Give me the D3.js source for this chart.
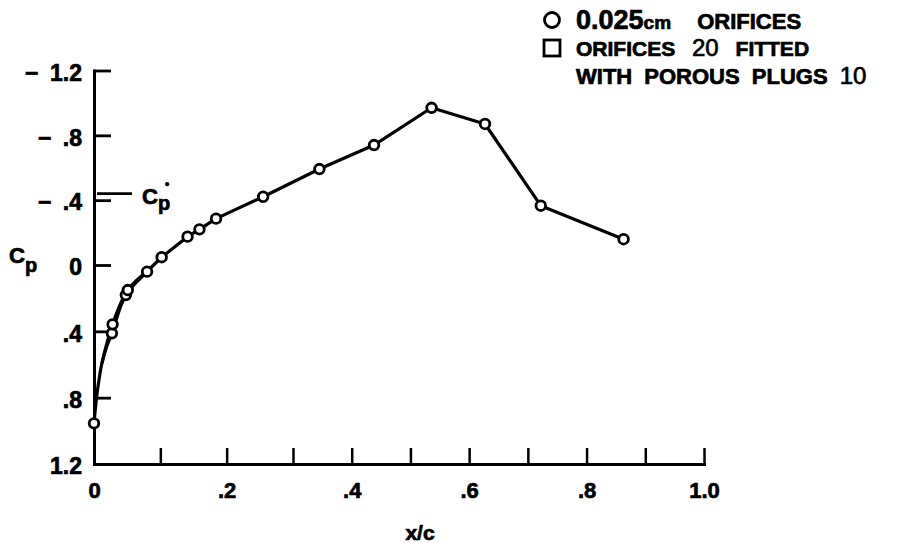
<!DOCTYPE html>
<html>
<head>
<meta charset="utf-8">
<script src="https://cdn.jsdelivr.net/npm/d3@7"></script>
<style>
  body { margin: 0; background: #fff; }
  svg { display: block; }
  text { font-family: "Liberation Sans", Arial, sans-serif; font-weight: bold; fill: #000; stroke: #000; stroke-width: 0.7px; }
</style>
</head>
<body>
<div id="chart"></div>
<script>
// orifice readings: x/c and Cp
var xc = [0, 0.027, 0.028, 0.048, 0.051, 0.080, 0.102, 0.141, 0.159, 0.184, 0.255, 0.345, 0.438, 0.536, 0.627, 0.722, 0.863];
var cp = [0.955, 0.412, 0.358, 0.181, 0.151, 0.040, -0.048, -0.175, -0.220, -0.286, -0.421, -0.592, -0.740, -0.970, -0.870, -0.366, -0.159];

// faired curve at the leading edge, before the first orifice row
var fairXc = [0, 0.004, 0.0075, 0.012, 0.019];
var fairCp = [0.955, 0.794, 0.694, 0.591, 0.493];

// critical pressure coefficient marker
var cpStar = -0.44;

var xMajorTicks = [0, 0.2, 0.4, 0.6, 0.8, 1.0];
var xTickLabels = ["0", ".2", ".4", ".6", ".8", "1.0"];
var xMinorTicks = [0.1, 0.3, 0.5, 0.7, 0.9];
var yTicks = [-1.2, -0.8, -0.4, 0, 0.4, 0.8, 1.2];
var yTickLabels = ["\u2212\u20021.2", "\u2212\u2002.8", "\u2212\u2002.4", "0", ".4", ".8", "1.2"];

var width = 898, height = 543;

var svg = d3.select("#chart")
  .append("svg")
  .attr("width", width)
  .attr("height", height);

svg.append("rect").attr("width", width).attr("height", height).attr("fill", "#fff");

// the scan is a bit stretched near the leading edge, so x uses 3 anchors
var x = d3.scaleLinear()
  .domain([0, 0.3, 1.0])
  .range([94, 293, 704]);

var y = d3.scaleLinear()
  .domain([-1.2, 0, 1.2])
  .range([70.5, 265, 464]);

// y axis, ticks pointing inward
var yAxis = svg.append("g")
  .attr("transform", "translate(" + x(0) + ",0)")
  .call(d3.axisLeft(y)
    .tickValues(yTicks)
    .tickSize(-17)
    .tickSizeOuter(0)
    .tickPadding(12)
    .tickFormat(function(d, i) { return yTickLabels[i]; }));

yAxis.select(".domain").attr("stroke-width", 3).attr("stroke-linecap", "square");
yAxis.selectAll(".tick line").attr("stroke-width", 2.8);
yAxis.selectAll(".tick text")
  .attr("font-size", 23)
  .attr("dy", "0.42em")
  .attr("font-family", null);

// x axis, labels every .2, ticks every .1
var xAxis = svg.append("g")
  .attr("transform", "translate(0," + y(1.2) + ")")
  .call(d3.axisBottom(x)
    .tickValues(xMajorTicks)
    .tickSize(-16)
    .tickSizeOuter(0)
    .tickPadding(18)
    .tickFormat(function(d, i) { return xTickLabels[i]; }));

xAxis.select(".domain").attr("stroke-width", 3).attr("stroke-linecap", "square");
xAxis.selectAll(".tick line").attr("stroke-width", 2.5);
xAxis.selectAll(".tick text").attr("font-size", 22).attr("font-family", null);

var xMinor = svg.append("g")
  .attr("transform", "translate(0," + y(1.2) + ")")
  .call(d3.axisBottom(x)
    .tickValues(xMinorTicks)
    .tickSize(-16)
    .tickFormat(""));
xMinor.select(".domain").remove();
xMinor.selectAll(".tick line").attr("stroke-width", 2.5);

// axis titles
svg.append("text")
  .attr("x", 420)
  .attr("y", 540)
  .attr("text-anchor", "middle")
  .attr("font-size", 21)
  .text("x/c");

var cpLabel = svg.append("text")
  .attr("x", 9)
  .attr("y", 263)
  .attr("font-size", 22)
  .text("C");
cpLabel.append("tspan").attr("dy", 9).attr("font-size", 20).text("p");

// Cp* marker
svg.append("line")
  .attr("x1", x(0) + 3)
  .attr("x2", 132)
  .attr("y1", y(cpStar))
  .attr("y2", y(cpStar))
  .attr("stroke", "#000")
  .attr("stroke-width", 2.8);

var starLabel = svg.append("text")
  .attr("x", 142)
  .attr("y", y(cpStar) + 10)
  .attr("font-size", 22)
  .text("C");
starLabel.append("tspan").attr("dy", 6).attr("font-size", 20).text("p");
starLabel.append("tspan").attr("dx", -5).attr("dy", -22).attr("font-size", 12).text("\u2022");

// pressure distribution
var points = xc.map(function(d, i) { return [d, cp[i]]; });
var fair = fairXc.map(function(d, i) { return [d, fairCp[i]]; });

var smooth = d3.line()
  .x(function(d) { return x(d[0]); })
  .y(function(d) { return y(d[1]); })
  .curve(d3.curveCatmullRom.alpha(0.5));

var straight = d3.line()
  .x(function(d) { return x(d[0]); })
  .y(function(d) { return y(d[1]); });

var leadLower = fair.concat([points[1], points[3], points[5], points[6]]);
var leadUpper = [fair[3], points[2], points[4], points[5]];

[smooth(leadLower), smooth(leadUpper), straight(points.slice(6))].forEach(function(p) {
  svg.append("path")
    .attr("d", p)
    .attr("fill", "none")
    .attr("stroke", "#000")
    .attr("stroke-width", 3.2)
    .attr("stroke-linejoin", "round");
});

svg.selectAll(".pt")
  .data(points)
  .enter()
  .append("circle")
  .attr("class", "pt")
  .attr("cx", function(d) { return x(d[0]); })
  .attr("cy", function(d) { return y(d[1]); })
  .attr("r", 4.8)
  .attr("fill", "#fff")
  .attr("stroke", "#000")
  .attr("stroke-width", 2.8);

// legend
var legX = 576;
svg.append("circle")
  .attr("cx", legX - 24).attr("cy", 20).attr("r", 7.5)
  .attr("fill", "none").attr("stroke", "#000").attr("stroke-width", 2.8);
svg.append("rect")
  .attr("x", legX - 32).attr("y", 40).attr("width", 16).attr("height", 16)
  .attr("fill", "none").attr("stroke", "#000").attr("stroke-width", 2.8);

var leg1 = svg.append("text").attr("x", legX).attr("y", 29).attr("font-size", 22).attr("word-spacing", 20);
leg1.append("tspan").attr("font-size", 27).text("0.025");
leg1.append("tspan").attr("font-size", 19).text("cm");
leg1.append("tspan").text(" ORIFICES");

var leg2 = svg.append("text").attr("x", legX).attr("y", 56).attr("font-size", 21).attr("word-spacing", 11);
leg2.append("tspan").text("ORIFICES ");
leg2.append("tspan").attr("font-weight", "normal").attr("font-size", 24).text("20");
leg2.append("tspan").text(" FITTED");

var leg3 = svg.append("text").attr("x", legX).attr("y", 84).attr("font-size", 22).attr("word-spacing", 6);
leg3.append("tspan").text("WITH POROUS PLUGS ");
leg3.append("tspan").attr("font-weight", "normal").attr("font-size", 24).text("10");
</script>
</body>
</html>
